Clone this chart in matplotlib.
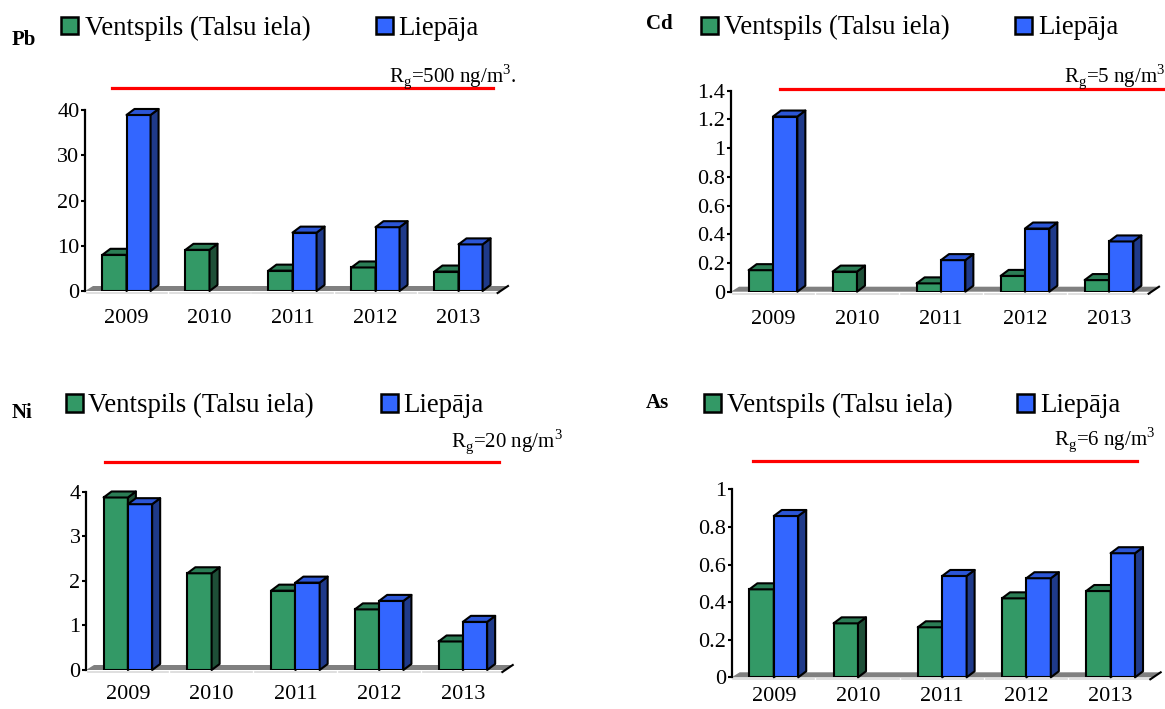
import numpy as np
import matplotlib
matplotlib.use('Agg')
import matplotlib.pyplot as plt
from matplotlib.patches import Polygon, Rectangle
from matplotlib.lines import Line2D
from matplotlib.ticker import FuncFormatter

plt.rcParams['font.family'] = ['Liberation Serif', 'DejaVu Serif']
plt.rcParams['mathtext.fontset'] = 'custom'
plt.rcParams['mathtext.rm'] = 'Liberation Serif'

years = ['2009', '2010', '2011', '2012', '2013']
series_names = ['Ventspils (Talsu iela)', 'Liepāja']

pb_ventspils = [8.0, 9.1, 4.5, 5.2, 4.3]
pb_liepaja = [38.9, None, 12.9, 14.1, 10.3]

cd_ventspils = [0.15, 0.14, 0.058, 0.11, 0.081]
cd_liepaja = [1.22, None, 0.22, 0.44, 0.35]

ni_ventspils = [3.87, 2.17, 1.78, 1.36, 0.64]
ni_liepaja = [3.72, None, 1.96, 1.55, 1.08]

as_ventspils = [0.468, 0.287, 0.266, 0.42, 0.459]
as_liepaja = [0.858, None, 0.539, 0.527, 0.66]

limits = {'Pb': '500', 'Cd': '5', 'Ni': '20', 'As': '6'}

# colours: front, top, side
GREEN = ('#339966', '#2b7d55', '#1e4f37')
BLUE = ('#3366ff', '#2c56d6', '#1f3a8a')

W, H = 1165, 709
DX, DY = 8, 6          # 3d depth of bars in pixels
FDY = 5                # depth of floor


def fx(px):
    return px / W


def fy(py):
    return 1 - py / H


def draw_panel(fig, name, v_vals, l_vals, ymax, step, lay):
    n = len(years)
    x0, floor, top, band = lay['x0'], lay['floor'], lay['top'], lay['band']
    ax = fig.add_axes([fx(x0), fy(floor), n * band / W, (floor - top) / H])
    ax.set_xlim(0, n)
    ax.set_ylim(0, ymax)
    ax.patch.set_visible(False)
    for s in ['top', 'right', 'bottom']:
        ax.spines[s].set_visible(False)
    ax.spines['left'].set_linewidth(1.6)
    ax.set_yticks(np.arange(0, ymax + step / 2, step))
    ax.yaxis.set_major_formatter(FuncFormatter(lambda v, p: f'{v:g}'))
    ax.tick_params(axis='y', length=3, width=1.5, labelsize=16, pad=1)
    ax.set_xticks(np.arange(n) + 0.5)
    ax.set_xticklabels(years)
    ax.tick_params(axis='x', length=0, labelsize=16, pad=lay['xpad'])

    ddx = DX / band
    ddy = DY * ymax / (floor - top)
    fdy = FDY * ymax / (floor - top)
    px_y = ymax / (floor - top)

    # floor
    ax.add_patch(Polygon([(0, 0), (n, 0), (n + ddx, fdy), (ddx, fdy)],
                         closed=True, facecolor='#808080', edgecolor='none',
                         clip_on=False, zorder=1))
    ax.add_line(Line2D([n - 0.3 * ddx, n + ddx], [-2 * px_y, fdy], color='black',
                       lw=1.5, clip_on=False, zorder=1.5))
    for i in range(n):
        ax.add_line(Line2D([i + 1.5 / band, i + 1 - 1.5 / band], [-2 * px_y, -2 * px_y],
                           color='#d9d9d9', lw=1.2, clip_on=False, zorder=1))

    w = 0.29
    z = 3
    for i in range(n):
        for j, (vals, cols) in enumerate([(v_vals, GREEN), (l_vals, BLUE)]):
            h = vals[i]
            if h is None:
                continue
            xl = i + 0.5 - w + j * w
            xr = xl + w
            ax.bar(xl, h, width=w, align='edge', color=cols[0], edgecolor='black',
                   linewidth=1.5, zorder=z)
            ax.add_patch(Polygon([(xr, 0), (xr + ddx, ddy), (xr + ddx, h + ddy), (xr, h)],
                                 closed=True, facecolor=cols[2], edgecolor='black',
                                 lw=1.5, joinstyle='round', zorder=z, clip_on=False))
            ax.add_patch(Polygon([(xl, h), (xl + ddx, h + ddy), (xr + ddx, h + ddy), (xr, h)],
                                 closed=True, facecolor=cols[1], edgecolor='black',
                                 lw=1.5, joinstyle='round', zorder=z, clip_on=False))
            z += 0.1

    # element label
    fig.text(fx(lay['label'][0]), fy(lay['label'][1]), name, fontsize=15,
             fontweight='bold', va='baseline')

    # legend
    ly0, ly1 = lay['legend_y']
    sq_g, tx_g, sq_b, tx_b = lay['legend_x']
    for sx, tx, cols, lab in [(sq_g, tx_g, GREEN, series_names[0]),
                              (sq_b, tx_b, BLUE, series_names[1])]:
        fig.add_artist(Rectangle((fx(sx), fy(ly1)), 17 / W, (ly1 - ly0) / H,
                                 transform=fig.transFigure, facecolor=cols[0],
                                 edgecolor='black', lw=1.8))
        fig.text(fx(tx), fy(ly1 + 1), lab, fontsize=19.4, va='baseline')

    # limit value line and text
    rx1, rx2, ry = lay['red']
    fig.add_artist(Line2D([fx(rx1), fx(rx2)], [fy(ry), fy(ry)], color='#ff0000',
                          lw=2.3, transform=fig.transFigure))
    tail = '.' if name == 'Pb' else ''
    fig.text(fx(lay['rg'][0]), fy(lay['rg'][1]),
             r'R$_\mathregular{g}$=' + limits[name] + r' ng/m$^\mathregular{3}$' + tail,
             fontsize=15, va='baseline')
    return ax


fig = plt.figure(figsize=(W / 100, H / 100), dpi=100)

draw_panel(fig, 'Pb', pb_ventspils, pb_liepaja, 40, 10,
           dict(x0=85, floor=291, top=110, band=83, label=(12, 45), xpad=13,
                legend_y=(17, 34), legend_x=(61, 85, 376, 398),
                rg=(389, 82), red=(112, 493, 88)))
draw_panel(fig, 'Cd', cd_ventspils, cd_liepaja, 1.4, 0.2,
           dict(x0=731, floor=291.7, top=90.7, band=84, label=(646, 29), xpad=13,
                legend_y=(16.5, 33.5), legend_x=(701, 724, 1015, 1038),
                rg=(1064, 82), red=(780, 1163, 89)))
draw_panel(fig, 'Ni', ni_ventspils, ni_liepaja, 4, 1,
           dict(x0=86, floor=670, top=491.7, band=83.75, label=(12, 418), xpad=11,
                legend_y=(394, 411.5), legend_x=(66, 88, 381, 403),
                rg=(451, 447), red=(105, 499, 462)))
draw_panel(fig, 'As', as_ventspils, as_liepaja, 1, 0.2,
           dict(x0=731.7, floor=677.3, top=489.3, band=84.2, label=(646, 408), xpad=7,
                legend_y=(394, 411.5), legend_x=(704, 727, 1017, 1040),
                rg=(1054, 445), red=(753, 1137, 461)))

fig.savefig('out.png', dpi=100)
